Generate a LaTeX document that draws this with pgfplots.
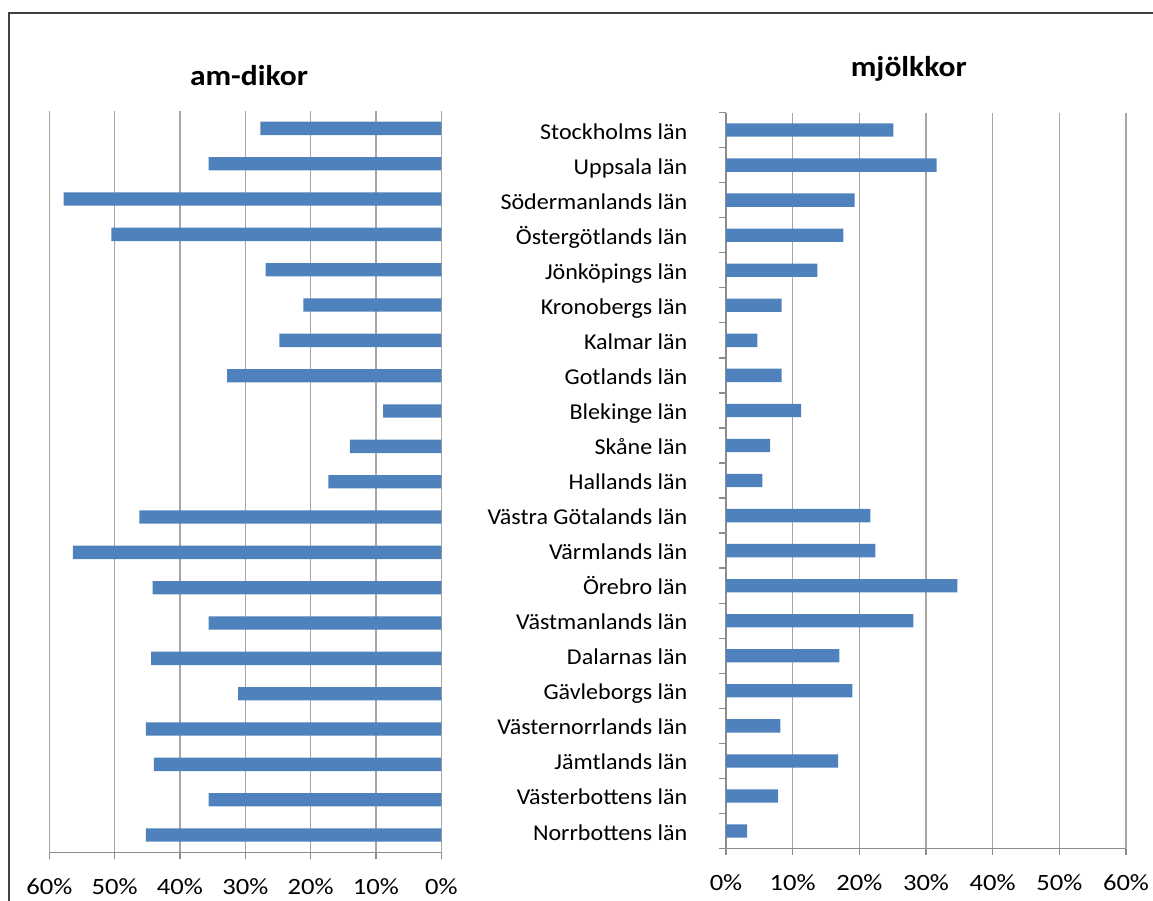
\documentclass[border=0pt]{standalone}
\usepackage{pgfplots}
\pgfplotsset{compat=1.18}
\usepackage{fontspec}
\setmainfont{Carlito}[FakeStretch=1.06]
\newfontfamily\tickfont{Carlito}[FakeStretch=1.14]
\newfontfamily\titlefont{Carlito}[FakeStretch=1.1]

\definecolor{barblue}{HTML}{4F81BD}
\definecolor{gridgray}{HTML}{A6A6A6}
\definecolor{axisgray}{HTML}{8C8C8C}
\definecolor{framegray}{HTML}{404040}

% one row per county, top to bottom
\pgfplotstableread{
y dikor mjolk
0  27.7 25.1
1  35.6 31.6
2  57.8 19.3
3  50.5 17.6
4  26.9 13.7
5  21.1 8.35
6  24.8 4.7
7  32.8 8.35
8  8.9  11.25
9  14.0 6.6
10 17.3 5.45
11 46.2 21.65
12 56.4 22.4
13 44.2 34.7
14 35.6 28.1
15 44.4 17.0
16 31.1 18.95
17 45.2 8.15
18 44.0 16.8
19 35.6 7.8
20 45.2 3.15
}\lan

\pgfplotsset{
  lanbar/.style={
    scale only axis,
    xbar, bar width=10pt,
    xmin=0, xmax=60,
    xtick={0,10,...,60},
    xticklabel={\pgfmathprintnumber{\tick}\%},
    /pgf/number format/assume math mode=true,
    ymin=-0.5, ymax=20.5, y dir=reverse,
    xmajorgrids,
    major grid style={gridgray, line width=1pt},
    axis line style={axisgray, line width=1pt},
    tick style={axisgray, line width=1pt},
    tick align=outside,
    major tick length=5pt,
    ticklabel style={font=\fontsize{17}{20}\selectfont, black},
    xticklabel style={font=\tickfont\fontsize{17.5}{20}\selectfont, anchor=base, yshift=-26.5pt},
    axis x line*=bottom,
  },
}

\begin{document}
\begin{tikzpicture}
\useasboundingbox (0,0) rectangle (864.75pt,675pt);
\draw[framegray, line width=1.5pt] (6.4pt,-5pt) -- (6.4pt,664.9pt) -- (870pt,664.9pt);

\begin{axis}[lanbar,
    at={(36.98pt,35.5pt)}, anchor=south west,
    width=294pt, height=556.5pt,
    x dir=reverse,
    axis y line=none,
]
\addplot[fill=barblue, draw=none] table[x=dikor, y=y] {\lan};
\end{axis}

\begin{axis}[lanbar,
    at={(544.5pt,38.6pt)}, anchor=south west,
    width=300pt, height=552pt,
    axis y line*=left,
    ytick={-0.5,0.5,...,20.5},
    yticklabels={},
    extra y ticks={0,...,20},
    extra y tick style={tick style={draw=none}, yticklabel style={anchor=base east, xshift=-20.5pt, yshift=-6.75pt}},
    extra y tick labels={Stockholms län, Uppsala län, Södermanlands län, Östergötlands län, Jönköpings län, Kronobergs län, Kalmar län, Gotlands län, Blekinge län, Skåne län, Hallands län, Västra Götalands län, Värmlands län, Örebro län, Västmanlands län, Dalarnas län, Gävleborgs län, Västernorrlands län, Jämtlands län, Västerbottens län, Norrbottens län},
]
\addplot[fill=barblue, draw=none] table[x=mjolk, y=y] {\lan};
\end{axis}

\node[anchor=base, font=\titlefont\bfseries\fontsize{21.5}{25}\selectfont] at (186.75pt,610.5pt) {am-dikor};
\node[anchor=base, font=\titlefont\bfseries\fontsize{21.5}{25}\selectfont] at (681.6pt,617.25pt) {mjölkkor};
\end{tikzpicture}
\end{document}
